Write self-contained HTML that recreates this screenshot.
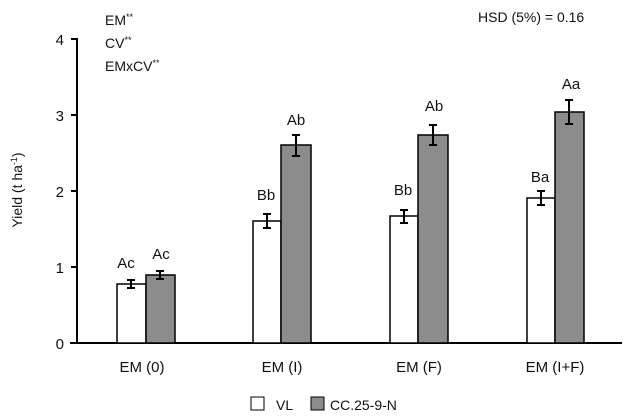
<!DOCTYPE html>
<html><head><style>body{margin:0;background:#fff}svg{display:block}text{font-family:"Liberation Sans",sans-serif;fill:#111}</style></head><body>
<svg width="631" height="419" viewBox="0 0 631 419">
<g stroke="#000" stroke-width="2" fill="none">
<line x1="77" y1="38" x2="77" y2="343"/>
<line x1="70" y1="343" x2="622" y2="343"/>
<line x1="71" y1="39" x2="77" y2="39"/>
<line x1="71" y1="115" x2="77" y2="115"/>
<line x1="71" y1="191" x2="77" y2="191"/>
<line x1="71" y1="267" x2="77" y2="267"/>
</g>
<g font-size="15" text-anchor="end">
<text x="64" y="45">4</text><text x="64" y="121">3</text><text x="64" y="197">2</text><text x="64" y="273">1</text><text x="64" y="349">0</text>
</g>
<text transform="translate(22,190) rotate(-90)" font-size="14" text-anchor="middle">Yield (t ha<tspan font-size="9" dy="-5">-1</tspan><tspan dy="5">)</tspan></text>
<g stroke="#000" stroke-width="1.5">
<rect x="117" y="284" width="29" height="59" fill="#fff"/>
<rect x="146" y="275" width="29" height="68" fill="#8c8c8c"/>
<rect x="253" y="221" width="28" height="122" fill="#fff"/>
<rect x="281" y="145" width="30" height="198" fill="#8c8c8c"/>
<rect x="390" y="216" width="28" height="127" fill="#fff"/>
<rect x="418" y="135" width="30" height="208" fill="#8c8c8c"/>
<rect x="527" y="198" width="28" height="145" fill="#fff"/>
<rect x="555" y="112" width="29" height="231" fill="#8c8c8c"/>
</g>
<g stroke="#000" stroke-width="2" fill="none">
<path d="M131 280v8M127 280h8M127 288h8"/>
<path d="M160 271v8M156 271h8M156 279h8"/>
<path d="M267 214v14M263 214h8M263 228h8"/>
<path d="M296 135v21M292 135h8M292 156h8"/>
<path d="M404 210v13M400 210h8M400 223h8"/>
<path d="M433 125v20M429 125h8M429 145h8"/>
<path d="M541 191v14M537 191h8M537 205h8"/>
<path d="M569 100v24M565 100h8M565 124h8"/>
</g>
<g font-size="15" text-anchor="middle">
<text x="126" y="268">Ac</text><text x="161" y="259">Ac</text>
<text x="266" y="200">Bb</text><text x="296" y="125">Ab</text>
<text x="403" y="195">Bb</text><text x="434" y="111">Ab</text>
<text x="540" y="182">Ba</text><text x="571" y="89">Aa</text>
<text x="142" y="372">EM (0)</text><text x="282" y="372">EM (I)</text>
<text x="419" y="372">EM (F)</text><text x="555" y="372">EM (I+F)</text>
</g>
<g font-size="14">
<text x="105" y="25">EM<tspan font-size="9" dy="-5">**</tspan></text>
<text x="105" y="48">CV<tspan font-size="9" dy="-5">**</tspan></text>
<text x="105" y="71">EMxCV<tspan font-size="9" dy="-5">**</tspan></text>
<text x="478" y="22">HSD (5%) = 0.16</text>
<text x="276" y="410">VL</text><text x="330" y="410">CC.25-9-N</text>
</g>
<rect x="251" y="397" width="13" height="13" fill="#fff" stroke="#000" stroke-width="1"/>
<rect x="311" y="397" width="13" height="13" fill="#8c8c8c" stroke="#000" stroke-width="1"/>
</svg>
</body></html>
